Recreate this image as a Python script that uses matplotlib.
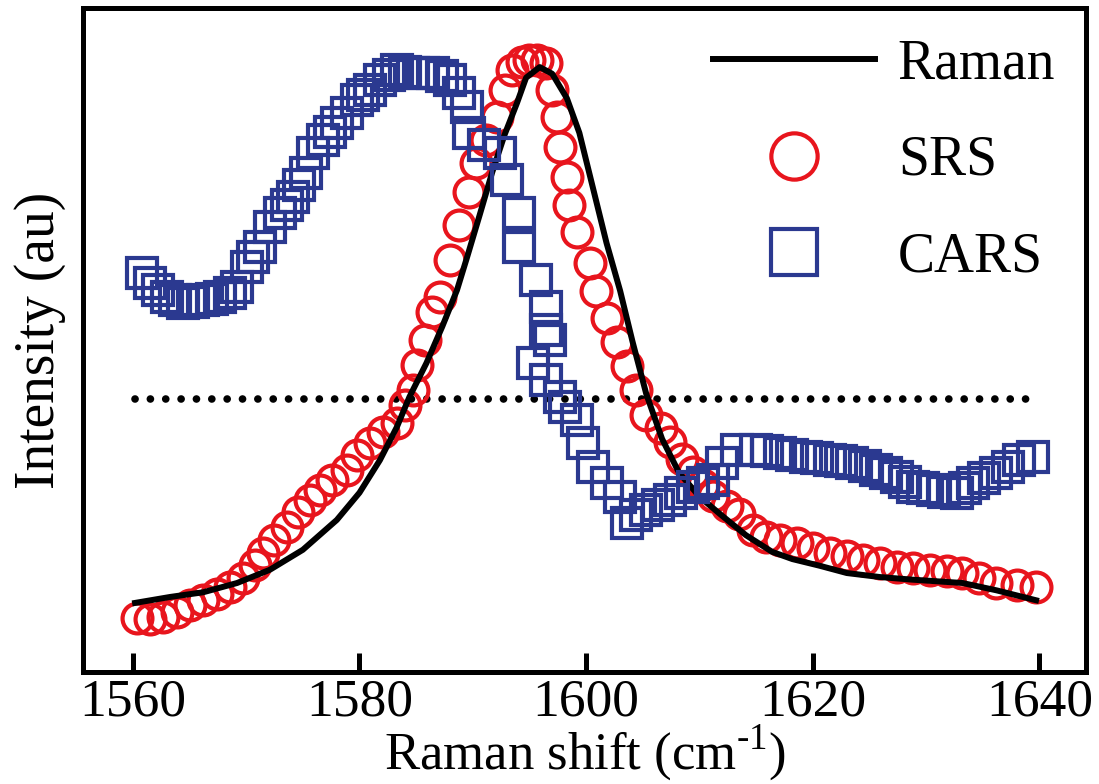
import numpy as np
import matplotlib.pyplot as plt

plt.rcParams['font.family'] = ['Liberation Serif', 'DejaVu Serif']
plt.rcParams['mathtext.fontset'] = 'custom'
plt.rcParams['mathtext.rm'] = 'Liberation Serif'

# Raman spectrum (solid line)
raman_x = [1560.2, 1563.3, 1566.2, 1569.2, 1572.1, 1575.0, 1578.0, 1580.0, 1581.8,
           1583.3, 1584.4, 1585.9, 1587.3, 1588.6, 1589.5, 1590.6, 1591.7, 1592.8,
           1593.9, 1594.7, 1595.9, 1597.0, 1598.3, 1599.4, 1600.6, 1601.8, 1603.0,
           1604.1, 1605.3, 1606.7, 1608.2, 1610.0, 1611.8, 1614.1, 1616.4, 1618.2,
           1620.6, 1623.0, 1625.9, 1628.8, 1633.2, 1636.2, 1639.7]
raman_y = [0.104, 0.113, 0.120, 0.134, 0.154, 0.184, 0.229, 0.270, 0.319,
           0.369, 0.414, 0.465, 0.520, 0.575, 0.625, 0.688, 0.752, 0.809,
           0.857, 0.895, 0.911, 0.901, 0.864, 0.812, 0.729, 0.646, 0.574,
           0.497, 0.419, 0.351, 0.300, 0.264, 0.238, 0.206, 0.181, 0.170,
           0.160, 0.149, 0.143, 0.139, 0.134, 0.123, 0.108]

# SRS (red circles)
srs_x = [1560.4, 1561.5, 1562.7, 1563.9, 1565.0, 1566.2, 1567.4, 1568.6, 1569.7,
         1570.8, 1571.5, 1572.5, 1573.6, 1574.6, 1575.6, 1576.5, 1577.6, 1578.9,
         1579.8, 1580.9, 1582.1, 1583.3, 1584.0, 1584.7, 1585.1, 1585.8, 1586.4,
         1587.1, 1588.0, 1588.8, 1589.7, 1590.3, 1591.2, 1592.1, 1592.8, 1593.5,
         1594.3, 1595.0, 1595.7, 1596.5, 1597.0, 1597.4, 1597.7, 1598.3, 1598.5,
         1599.2, 1600.3, 1600.9, 1601.8, 1602.7, 1603.6, 1604.4, 1605.3, 1606.6,
         1607.4, 1608.5, 1609.4, 1610.3, 1611.2, 1612.4, 1613.5, 1614.7,
         1615.9, 1617.1, 1618.6, 1620.0, 1621.5, 1623.0, 1624.4, 1625.9, 1627.4,
         1628.8, 1630.3, 1631.8, 1633.2, 1634.7, 1636.2, 1638.0, 1639.7]
srs_y = [0.081, 0.080, 0.083, 0.090, 0.101, 0.108, 0.118, 0.128, 0.142,
         0.161, 0.179, 0.199, 0.218, 0.241, 0.259, 0.274, 0.289, 0.304,
         0.327, 0.345, 0.361, 0.375, 0.402, 0.425, 0.462, 0.500, 0.542,
         0.565, 0.621, 0.673, 0.723, 0.767, 0.801, 0.836, 0.877, 0.907,
         0.919, 0.922, 0.922, 0.917, 0.877, 0.836, 0.791, 0.745, 0.703,
         0.663, 0.616, 0.574, 0.533, 0.497, 0.461, 0.425, 0.387, 0.367,
         0.346, 0.321, 0.301, 0.282, 0.265, 0.250, 0.238, 0.214,
         0.203, 0.199, 0.194, 0.187, 0.179, 0.175, 0.169, 0.164, 0.158,
         0.157, 0.154, 0.152, 0.149, 0.142, 0.134, 0.131, 0.128]

# CARS (blue squares)
cars_x = [1560.8, 1561.5, 1562.2, 1563.0, 1563.7, 1564.4, 1565.3, 1566.2, 1567.0,
          1567.7, 1568.6, 1569.2, 1570.1, 1570.6, 1571.2, 1572.1, 1573.0, 1573.6,
          1574.1, 1574.7, 1575.3, 1575.9, 1576.8, 1577.4, 1578.0, 1578.9, 1579.8,
          1580.3, 1580.9, 1581.8, 1582.6, 1583.3, 1584.0, 1584.7, 1585.6, 1586.5,
          1587.3, 1588.0, 1588.8, 1589.5, 1589.7, 1591.0, 1592.4, 1593.0, 1594.1,
          1594.1, 1595.6, 1596.5, 1596.5, 1596.8, 1595.3, 1596.5, 1597.7, 1598.1,
          1599.2, 1599.7, 1600.6, 1601.8, 1603.0, 1603.6, 1604.4, 1605.3, 1606.3,
          1607.4, 1608.4, 1609.4, 1610.3, 1611.2, 1612.0, 1613.3, 1615.0, 1616.0,
          1617.1, 1618.2, 1619.4, 1620.4, 1621.5, 1622.5, 1623.5, 1624.6, 1625.6,
          1626.5, 1627.4, 1628.1, 1628.8, 1629.7, 1630.6, 1631.6, 1632.7, 1633.4,
          1634.1, 1635.1, 1636.2, 1637.2, 1638.2, 1639.4]
cars_y = [0.601, 0.586, 0.575, 0.565, 0.560, 0.556, 0.557, 0.560, 0.562,
          0.565, 0.571, 0.580, 0.610, 0.625, 0.640, 0.670, 0.691, 0.703,
          0.715, 0.733, 0.752, 0.782, 0.801, 0.813, 0.827, 0.842, 0.861,
          0.869, 0.877, 0.892, 0.899, 0.907, 0.904, 0.902, 0.902, 0.902,
          0.898, 0.892, 0.872, 0.851, 0.812, 0.794, 0.782, 0.741, 0.691,
          0.640, 0.590, 0.550, 0.515, 0.500, 0.465, 0.440, 0.414, 0.399,
          0.380, 0.345, 0.309, 0.285, 0.264, 0.224, 0.236, 0.244, 0.252,
          0.259, 0.270, 0.279, 0.285, 0.289, 0.315, 0.334, 0.334, 0.333,
          0.330, 0.327, 0.324, 0.322, 0.319, 0.318, 0.315, 0.310, 0.304,
          0.300, 0.294, 0.286, 0.279, 0.277, 0.274, 0.271, 0.270, 0.277,
          0.285, 0.292, 0.300, 0.309, 0.319, 0.324]

# horizontal dotted reference line
ref_x = [1560.2, 1640.0]
ref_y = [0.411, 0.411]

red = '#E8151D'
blue = '#2B3990'

fig = plt.figure(figsize=(10.99, 7.84), dpi=100)
ax = fig.add_axes([0.0755, 0.1429, 0.9126, 0.8469])

ax.plot(ref_x, ref_y, color='black', lw=5.5, linestyle=(0, (0.01, 2.0)),
        dash_capstyle='round', zorder=1.5)
ax.plot(srs_x, srs_y, 'o', mfc='none', mec=red, mew=3, ms=21.5,
        label='SRS', zorder=2)
ax.plot(raman_x, raman_y, '-', color='black', lw=4.3, label='Raman', zorder=3)
ax.plot(cars_x, cars_y, 's', mfc='none', mec=blue, mew=3, ms=21.5,
        label='CARS', zorder=4)

ax.set_xlim(1555.6, 1644.1)
ax.set_ylim(0, 1)
ax.set_xticks([1560, 1580, 1600, 1620, 1640])
ax.set_yticks([])
ax.tick_params(axis='x', direction='in', length=14, width=3.6,
               labelsize=38.5, pad=5)
for s in ax.spines.values():
    s.set_linewidth(3.6)

ax.set_xlabel(r'Raman shift (cm$^{\text{-1}}$)', fontsize=38, labelpad=-3)
ax.set_ylabel('Intensity (au)', fontsize=40, labelpad=12)

h, l = ax.get_legend_handles_labels()
order = [1, 0, 2]
ax.legend([h[i] for i in order], [l[i] for i in order], loc='upper right',
          bbox_to_anchor=(1.0, 1.0), frameon=False, fontsize=40,
          markerscale=1.55, handlelength=2.9, handletextpad=0.42,
          labelspacing=0.8, borderaxespad=0.15)

plt.savefig('out.png', dpi=100)
